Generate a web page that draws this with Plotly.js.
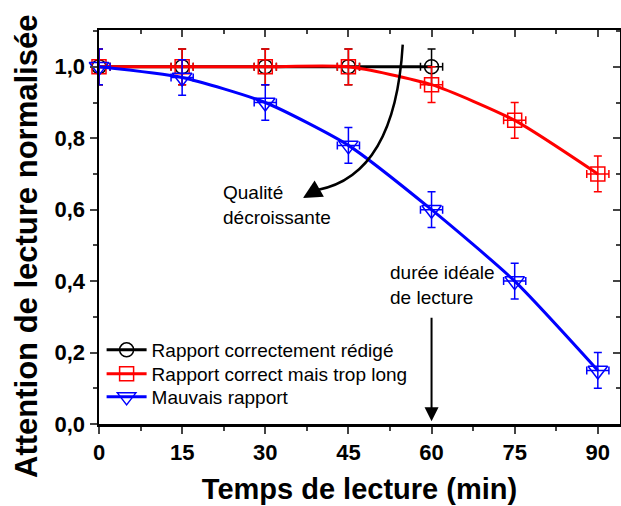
<!DOCTYPE html>
<html><head><meta charset="utf-8">
<script src="https://cdn.plot.ly/plotly-3.0.1.min.js"></script>
<style>html,body{margin:0;padding:0;background:#fff}</style>
</head><body>
<div id="chart" style="width:621px;height:506px"></div>
<script>
const timeGood = [0, 15, 30, 45, 60];
const attGood = [1.0, 1.0, 1.0, 1.0, 1.0];
const timeLong = [0, 15, 30, 45, 60, 75, 90];
const attLong = [1.0, 1.0, 1.0, 1.0, 0.95, 0.85, 0.70];
const timeBad = [0, 15, 30, 45, 60, 75, 90];
const attBad = [1.0, 0.97, 0.90, 0.78, 0.60, 0.40, 0.15];
const errY = 0.05;
const errX = 2;
const names = ["Rapport correctement rédigé", "Rapport correct mais trop long", "Mauvais rapport"];
const xTicks = [0, 15, 30, 45, 60, 75, 90];
const yTicks = [0, 0.2, 0.4, 0.6, 0.8, 1.0];

function tr(x, y, name, color, symbol, size, shape, leg) {
  return {
    x: x, y: y, name: name, type: 'scatter', mode: 'lines+markers', legend: leg,
    line: {color: color, width: 3, shape: shape, smoothing: 0.6},
    marker: {symbol: symbol, size: size, color: color, line: {color: color, width: 1.5}},
    error_y: {type: 'data', array: y.map(() => errY), color: color, thickness: 1.5, width: 4},
    error_x: {type: 'data', array: x.map(() => errX), color: color, thickness: 1.5, width: 4},
    cliponaxis: false
  };
}
const data = [
  tr(timeGood, attGood, names[0], '#000000', 'circle-open', 14, 'linear', 'legend'),
  tr(timeLong, attLong, names[1], '#ff0000', 'square-open', 14, 'spline', 'legend2'),
  tr(timeBad, attBad, names[2], '#0000ff', 'triangle-down-open', 17, 'spline', 'legend3'),
  {x: [], y: [], xaxis: 'x2', yaxis: 'y2', showlegend: false, hoverinfo: 'skip', type: 'scatter'}
];
const FAM = 'Liberation Sans, Arial, sans-serif';
const tickFont = {family: FAM, size: 22, color: '#000', weight: 'bold'};
const titleFont = {family: FAM, size: 29, color: '#000', weight: 'bold'};
const XR = [0, 94], YR = [0, 1.103];
function leg(ypx) {
  return {x: 0.005, y: 1 - (ypx - 30) / 394, xanchor: 'left', yanchor: 'middle', bgcolor: 'rgba(0,0,0,0)',
    font: {family: FAM, size: 19, color: '#000'}, itemwidth: 40};
}
const layout = {
  width: 621, height: 506,
  margin: {l: 99, r: 1, t: 30, b: 82},
  paper_bgcolor: '#fff', plot_bgcolor: '#fff',
  separators: ',.',
  showlegend: true,
  legend: leg(350), legend2: leg(374), legend3: leg(397),
  xaxis: {range: XR, tickvals: xTicks, ticks: 'outside', ticklen: 7, tickwidth: 2, showline: true,
    linewidth: 2.5, linecolor: '#000', showgrid: false, zeroline: false, tickfont: tickFont,
    minor: {dtick: 7.5, tick0: 0, ticks: 'outside', ticklen: 4, tickwidth: 2, showgrid: false},
    title: {text: 'Temps de lecture (min)', font: titleFont, standoff: 15}},
  yaxis: {range: YR, tickvals: yTicks, tickformat: '.1f', ticks: 'outside', ticklen: 7, tickwidth: 2,
    showline: true, linewidth: 2.5, linecolor: '#000', showgrid: false, zeroline: false, tickfont: tickFont,
    minor: {dtick: 0.1, tick0: 0, ticks: 'outside', ticklen: 4, tickwidth: 2, showgrid: false}},
  xaxis2: {overlaying: 'x', side: 'top', range: XR, tickvals: xTicks, ticks: 'inside', ticklen: 7, tickwidth: 2,
    showticklabels: false, showline: true, linewidth: 2.5, linecolor: '#000', showgrid: false, zeroline: false,
    minor: {dtick: 7.5, tick0: 0, ticks: 'inside', ticklen: 4, tickwidth: 2, showgrid: false}},
  yaxis2: {overlaying: 'y', side: 'right', range: YR, tickvals: yTicks, ticks: 'inside', ticklen: 7, tickwidth: 2,
    showticklabels: false, showline: true, linewidth: 2.5, linecolor: '#000', showgrid: false, zeroline: false,
    minor: {dtick: 0.1, tick0: 0, ticks: 'inside', ticklen: 4, tickwidth: 2, showgrid: false}},
  shapes: [
    {type: 'path', xref: 'x', yref: 'y', path: 'M54.8,1.062 Q53.4,0.697 39.4,0.655',
     line: {color: '#000', width: 2.5}}
  ],
  annotations: [
    {text: 'Attention de lecture normalisée', textangle: -90, xref: 'paper', yref: 'paper',
     x: (26 - 99) / 521, y: 1 - (247 - 30) / 394, xanchor: 'center', yanchor: 'middle', showarrow: false,
     font: Object.assign({}, titleFont, {size: 31})},
    {x: 36.8, y: 0.633, xref: 'x', yref: 'y', ax: 14, ay: -8, showarrow: true, arrowhead: 2,
     arrowsize: 1.5, arrowwidth: 2.5, arrowcolor: '#000', text: ''},
    {x: 22.0, y: 0.612, xref: 'x', yref: 'y', xanchor: 'left', yanchor: 'middle', align: 'left',
     showarrow: false, text: 'Qualité<br>décroissante',
     font: {family: FAM, size: 19, color: '#000'}},
    {x: 52.1, y: 0.39, xref: 'x', yref: 'y', xanchor: 'left', yanchor: 'middle', align: 'left',
     showarrow: false, text: 'durée idéale<br>de lecture',
     font: {family: FAM, size: 19, color: '#000'}},
    {x: 60, y: 0.008, xref: 'x', yref: 'y', ax: 0, ay: -105, showarrow: true, arrowhead: 2,
     arrowsize: 1.4, arrowwidth: 2, arrowcolor: '#000', text: ''}
  ]
};
Plotly.newPlot('chart', data, layout, {displayModeBar: false, staticPlot: true});
</script>
</body></html>
